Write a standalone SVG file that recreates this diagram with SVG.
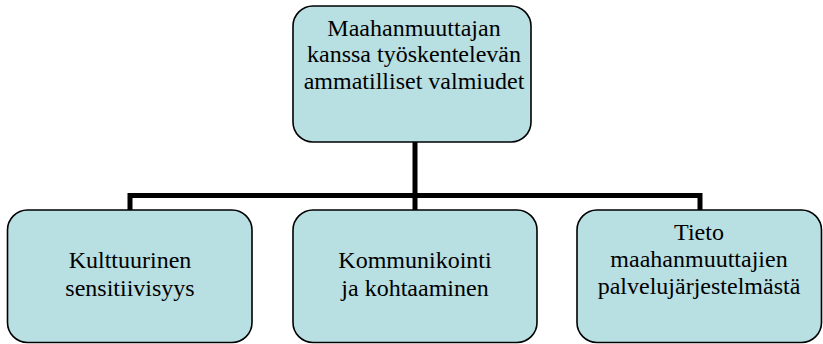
<svg xmlns="http://www.w3.org/2000/svg" width="823" height="344" viewBox="0 0 823 344">
<style>
.box{fill:#B8DFE2;stroke:#000;stroke-width:1.6}
.t{font-family:'Liberation Serif','DejaVu Serif',serif;font-size:24px;fill:#000;text-anchor:middle}
.c{fill:none;stroke:#000;stroke-width:5}
</style>
<rect width="823" height="344" fill="#fff"/>
<g id="connectors">
<path class="c" d="M415,142 V196"/>
<path class="c" d="M130,210 V195.5 H700 V210"/>
<path class="c" d="M415,195.5 V210"/>
</g>
<g id="root">
<rect class="box" x="293" y="6" width="238" height="136" rx="20"/>
<text class="t" x="414" y="35.5">Maahanmuuttajan</text>
<text class="t" x="414" y="62">kanssa työskentelevän</text>
<text class="t" x="414" y="88.5">ammatilliset valmiudet</text>
</g>
<g id="kulttuurinen">
<rect class="box" x="7.5" y="210" width="244.5" height="132.5" rx="20"/>
<text class="t" x="130" y="268">Kulttuurinen</text>
<text class="t" x="130" y="295.5">sensitiivisyys</text>
</g>
<g id="kommunikointi">
<rect class="box" x="293" y="210" width="244" height="132.5" rx="20"/>
<text class="t" x="415" y="268">Kommunikointi</text>
<text class="t" x="415" y="295.5">ja kohtaaminen</text>
</g>
<g id="tieto">
<rect class="box" x="577" y="210" width="244.5" height="132.5" rx="20"/>
<text class="t" x="699" y="239.5">Tieto</text>
<text class="t" x="699" y="266.5">maahanmuuttajien</text>
<text class="t" x="699" y="293.5">palvelujärjestelmästä</text>
</g>
</svg>
